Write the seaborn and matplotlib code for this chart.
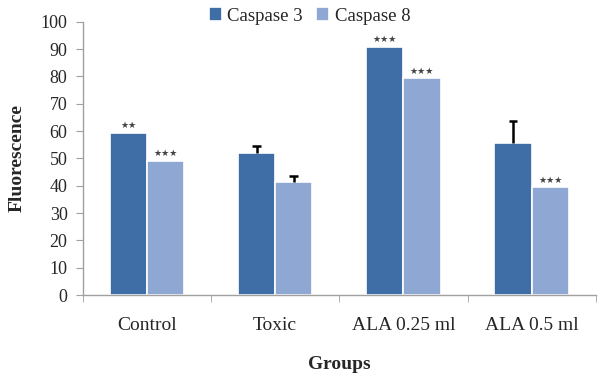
import matplotlib
matplotlib.use("Agg")
import matplotlib.pyplot as plt
from matplotlib.container import BarContainer
import seaborn as sns
import pandas as pd
import numpy as np

groups = ["Control", "Toxic", "ALA 0.25 ml", "ALA 0.5 ml"]
caspase3 = [59.4, 52.1, 90.9, 55.6]
caspase8 = [49.2, 41.5, 79.4, 39.4]
err3 = [0.0, 2.6, 0.0, 8.1]
err8 = [0.0, 2.2, 0.0, 0.0]
stars3 = ["★★", "", "★★★", ""]
stars8 = ["★★★", "", "★★★", "★★★"]
series = ["Caspase 3", "Caspase 8"]

df = pd.DataFrame({
    "Groups": groups * 2,
    "Fluorescence": caspase3 + caspase8,
    "Series": [series[0]] * 4 + [series[1]] * 4,
})

sns.set_style("white")
plt.rcParams["font.family"] = ["Liberation Serif", "DejaVu Serif"]

fig = plt.figure(figsize=(6, 3.79), dpi=100)
ax = fig.add_axes([0.138, 0.2216, 0.855, 0.721])

palette = ["#3f6ea7", "#8fa8d3"]
sns.barplot(data=df, x="Groups", y="Fluorescence", hue="Series", order=groups,
            hue_order=series, palette=palette, errorbar=None, width=0.58,
            edgecolor="white", linewidth=1.2, saturation=1, ax=ax)

errs = [err3, err8]
stars = [stars3, stars8]
bar_conts = [c for c in ax.containers if isinstance(c, BarContainer)]
for ci, cont in enumerate(bar_conts):
    for bi, bar in enumerate(list(cont.patches)):
        xc = bar.get_x() + bar.get_width() / 2
        h = bar.get_height()
        e = errs[ci][bi]
        if e > 0:
            cw = 0.034
            ax.plot([xc, xc], [h, h + e], color="black", lw=1.8, zorder=1,
                    solid_capstyle="butt")
            ax.plot([xc - cw, xc + cw], [h + e, h + e], color="black", lw=1.8,
                    zorder=3, solid_capstyle="butt")
        s = stars[ci][bi]
        if s:
            ax.text(xc, h + 0.9, s, ha="center", va="bottom", fontsize=6.5,
                    color="#444444", family="DejaVu Sans")

ax.set_ylim(0, 100)
ax.set_xlim(-0.5, 3.5)
ax.set_yticks(np.arange(0, 101, 10))
ax.tick_params(axis="y", labelsize=13, length=5, color="#a0a0a0", direction="out",
               left=True, pad=6)
ax.set_xticks(range(4))
ax.set_xticklabels(groups)
ax.tick_params(axis="x", which="major", labelsize=14, length=0, pad=16)
ax.set_xticks(np.arange(-0.5, 4, 1), minor=True)
ax.tick_params(axis="x", which="minor", length=5, color="#a0a0a0", direction="out",
               bottom=True)

for side in ["top", "right"]:
    ax.spines[side].set_visible(False)
for side in ["left", "bottom"]:
    ax.spines[side].set_color("#a0a0a0")
    ax.spines[side].set_linewidth(1.0)

ax.set_ylabel("Fluorescence", fontsize=14, fontweight="bold", labelpad=11)
ax.set_xlabel("Groups", fontsize=14, fontweight="bold", labelpad=16)

leg = ax.legend(loc="upper center", bbox_to_anchor=(0.442, 1.08), ncol=2, frameon=False,
                fontsize=13.5, handlelength=0.7, handleheight=0.7, handletextpad=0.3,
                columnspacing=0.7, borderaxespad=0)

fig.savefig("out.png", dpi=100)
